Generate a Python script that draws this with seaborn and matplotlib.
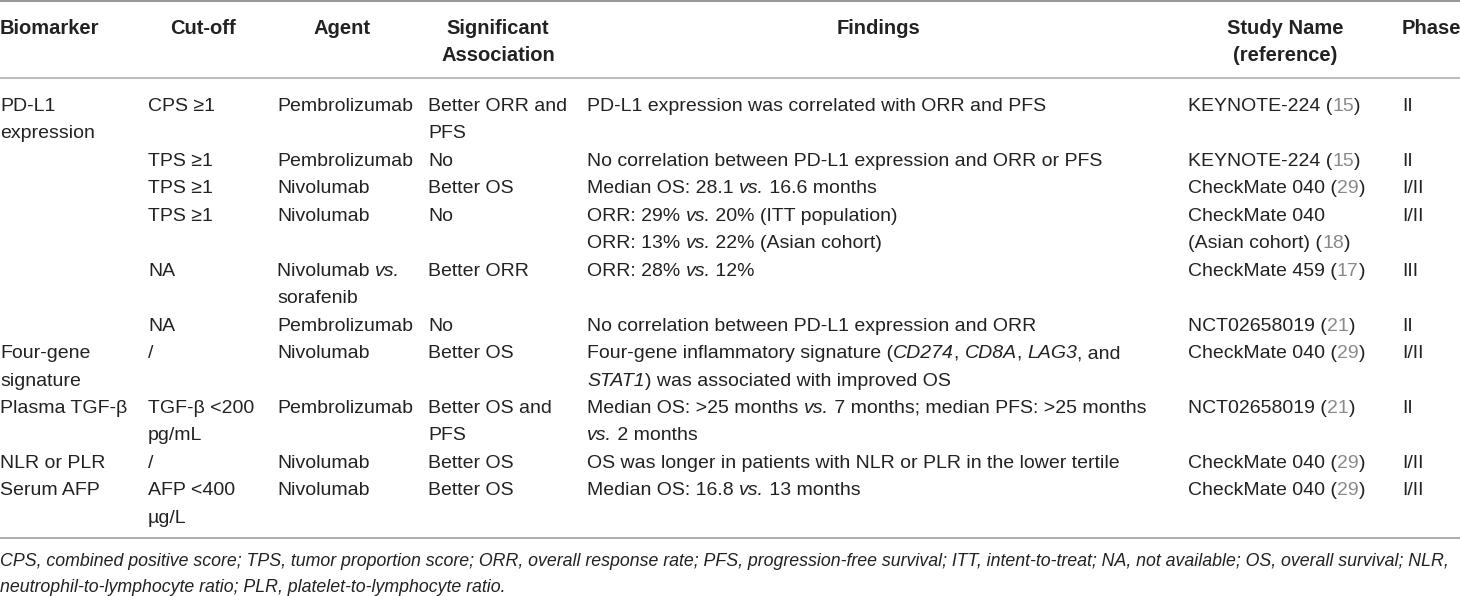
import matplotlib
matplotlib.use("Agg")
import matplotlib.pyplot as plt
import seaborn as sns
import pandas as pd
from matplotlib import font_manager

# Table content, one entry per study row.
# "\n" breaks a cell over two lines, *...* marks italic, {...} marks grey reference numbers.
biomarker = ["PD-L1\nexpression", "", "", "", "", "", "Four-gene\nsignature",
             "Plasma TGF-β", "NLR or PLR", "Serum AFP"]
cutoff = ["CPS ≥1", "TPS ≥1", "TPS ≥1", "TPS ≥1", "NA", "NA", "/",
          "TGF-β <200\npg/mL", "/", "AFP <400\nµg/L"]
agent = ["Pembrolizumab", "Pembrolizumab", "Nivolumab", "Nivolumab",
         "Nivolumab *vs.*\nsorafenib", "Pembrolizumab", "Nivolumab",
         "Pembrolizumab", "Nivolumab", "Nivolumab"]
association = ["Better ORR and\nPFS", "No", "Better OS", "No", "Better ORR", "No",
               "Better OS", "Better OS and\nPFS", "Better OS", "Better OS"]
findings = [
    "PD-L1 expression was correlated with ORR and PFS",
    "No correlation between PD-L1 expression and ORR or PFS",
    "Median OS: 28.1 *vs.* 16.6 months",
    "ORR: 29% *vs.* 20% (ITT population)\nORR: 13% *vs.* 22% (Asian cohort)",
    "ORR: 28% *vs.* 12%",
    "No correlation between PD-L1 expression and ORR",
    "Four-gene inflammatory signature (*CD274*, *CD8A*, *LAG3*, and\n*STAT1*) was associated with improved OS",
    "Median OS: >25 months *vs.* 7 months; median PFS: >25 months\n*vs.* 2 months",
    "OS was longer in patients with NLR or PLR in the lower tertile",
    "Median OS: 16.8 *vs.* 13 months",
]
study_name = ["KEYNOTE-224", "KEYNOTE-224", "CheckMate 040", "CheckMate 040\n(Asian cohort)",
              "CheckMate 459", "NCT02658019", "CheckMate 040", "NCT02658019",
              "CheckMate 040", "CheckMate 040"]
study_ref = ["15", "15", "29", "18", "17", "21", "29", "21", "29", "29"]
phase = ["II", "II", "I/II", "I/II", "III", "II", "I/II", "II", "I/II", "I/II"]

headers = ["Biomarker", "Cut-off", "Agent", "Significant\nAssociation", "Findings",
           "Study Name\n(reference)", "Phase"]
footnote = ("CPS, combined positive score; TPS, tumor proportion score; ORR, overall response rate; "
            "PFS, progression-free survival; ITT, intent-to-treat; NA, not available; OS, overall survival; NLR,\n"
            "neutrophil-to-lymphocyte ratio; PLR, platelet-to-lymphocyte ratio.")

study = [n + " ({" + r + "})" for n, r in zip(study_name, study_ref)]
df = pd.DataFrame({"Biomarker": biomarker, "Cut-off": cutoff, "Agent": agent,
                   "Association": association, "Findings": findings,
                   "Study": study, "Phase": phase})

sns.set_theme(style="white")
names = {f.name for f in font_manager.fontManager.ttflist}
family = "Liberation Sans Narrow" if "Liberation Sans Narrow" in names else "Liberation Sans"
plt.rcParams["font.family"] = [family, "DejaVu Sans"]

TEXT = "#222222"
GREY = "#8a8a8a"

W, H = 1460, 596
fig = plt.figure(figsize=(W / 100, H / 100), dpi=100)
ax = fig.add_axes([0, 0, 1, 1])
ax.set_xlim(0, W)
ax.set_ylim(H, 0)
ax.axis("off")
rend = fig.canvas.get_renderer()


def text_w(s, **kw):
    t = ax.text(0, 0, s, **kw)
    w = t.get_window_extent(rend).width
    t.remove()
    return w


def seg_w(s, **kw):
    return text_w("x" + s + "x", **kw) - text_w("xx", **kw)


# size the fonts so the lines are as long as in the original
fs = 10 * 514 / text_w(findings[1], fontsize=10)
fs_head = 10 * 100 / text_w("Biomarker", fontsize=10, weight="bold")
fs_note = 10 * 1456 / text_w(footnote.split("\n")[0], fontsize=10, style="italic")


def parse(line):
    segs, buf, ital, grey = [], "", False, False
    for ch in line:
        if ch in "*{}":
            if buf:
                segs.append((buf, ital, grey))
            buf = ""
            if ch == "*":
                ital = not ital
            else:
                grey = ch == "{"
        else:
            buf += ch
    if buf:
        segs.append((buf, ital, grey))
    return segs


def rich(x, y, line, size):
    for s, ital, grey in parse(line):
        kw = dict(fontsize=size, style="italic" if ital else "normal")
        ax.text(x, y, s, va="baseline", ha="left", color=GREY if grey else TEXT, **kw)
        x += seg_w(s, **kw)


col_x = [0, 148, 277, 428, 587, 1188, 1402]
head_x = [0, 203, 342, 498, 878, 1285, 1402]
head_ha = ["left", "center", "center", "center", "center", "center", "left"]
pitch = 27.45
first = 104.5
cap = 6.5

# header
ax.axhline(1, color="#8f8f8f", lw=1.3)
for hx, ha, h in zip(head_x, head_ha, headers):
    for k, part in enumerate(h.split("\n")):
        ax.text(hx, 27 + k * pitch + cap, part, fontsize=fs_head, weight="bold",
                ha=ha, va="baseline", color=TEXT)
ax.axhline(78, color="#bdbdbd", lw=1.5)

# body
line_no = 0
for _, row in df.iterrows():
    cells = list(row.values)
    for cx, cell in zip(col_x, cells):
        for k, part in enumerate(cell.split("\n")):
            if part:
                rich(cx, first + (line_no + k) * pitch + cap, part, fs)
    line_no += max(c.count("\n") + 1 for c in cells)

ax.axhline(538, color="#a8a8a8", lw=1.3)

# footnote
for k, part in enumerate(footnote.split("\n")):
    ax.text(0, 560 + k * 25.5 + cap, part, fontsize=fs_note, style="italic",
            ha="left", va="baseline", color=TEXT)

fig.savefig("out.png", dpi=100)
